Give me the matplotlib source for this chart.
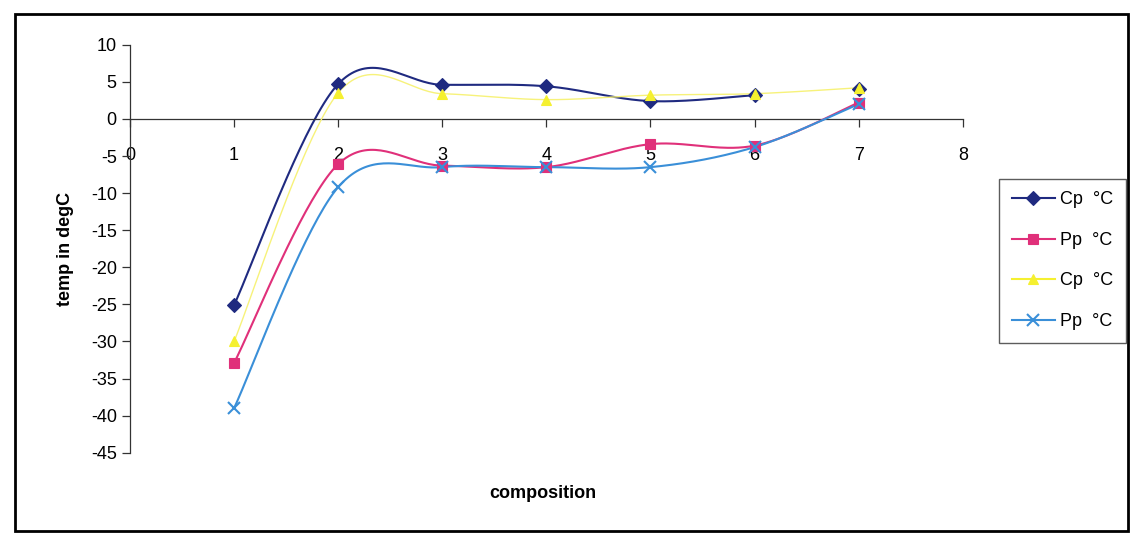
import matplotlib.pyplot as plt
import numpy as np
from matplotlib.patches import Rectangle

plt.rcParams['font.family'] = ['Liberation Sans', 'DejaVu Sans']
plt.rcParams['axes.unicode_minus'] = False

#Data
composition = [1, 2, 3, 4, 5, 6, 7]
cp_1 = [-25.1, 4.7, 4.6, 4.4, 2.4, 3.2, 4.0]
pp_1 = [-32.9, -6.1, -6.3, -6.5, -3.4, -3.6, 2.2]
cp_2 = [-30.0, 3.5, 3.4, 2.6, 3.2, 3.4, 4.2]
pp_2 = [-39.0, -9.2, -6.5, -6.5, -6.5, -3.8, 2.0]


def smooth(x, y, n=40):
    #Excel-like smoothed line: Catmull-Rom through Bezier segments
    x = np.asarray(x, float)
    y = np.asarray(y, float)
    p = np.column_stack([x, y])
    pts = []
    t = np.linspace(0, 1, n)
    for i in range(len(p) - 1):
        p0 = p[max(i - 1, 0)]
        p1 = p[i]
        p2 = p[i + 1]
        p3 = p[min(i + 2, len(p) - 1)]
        c1 = p1 + (p2 - p0) / 6
        c2 = p2 - (p3 - p1) / 6
        seg = ((1 - t) ** 3)[:, None] * p1 + (3 * (1 - t) ** 2 * t)[:, None] * c1 \
            + (3 * (1 - t) * t ** 2)[:, None] * c2 + (t ** 3)[:, None] * p2
        pts.append(seg)
    pts = np.vstack(pts)
    return pts[:, 0], pts[:, 1]


fig = plt.figure(figsize=(11.3, 5.39), dpi=100)
ax = fig.add_axes([0.115, 0.16, 0.737, 0.757])

series = [
    (cp_1, '#1f2a80', 'D', 'Cp  °C', 6),
    (pp_1, '#e0307a', 's', 'Pp  °C', 7),
    (cp_2, '#f5f030', '^', 'Cp  °C', 7),
    (pp_2, '#3a8fd8', 'x', 'Pp  °C', 7),
]
order = [2, 0, 3, 1]
handles = [None] * 4
for k in order:
    vals, c, m, lab, nline = series[k]
    sx, sy = smooth(composition[:nline], vals[:nline])
    if k == 2:
        ax.plot(sx, sy, color='#f7f27a', lw=1.0, zorder=2 + k)
    else:
        ax.plot(sx, sy, color=c, lw=1.5, zorder=2 + k)
    ax.plot(composition, vals, ls='none', marker=m, color=c, mec=c,
            ms=7 if m != 'x' else 9, mew=1.5 if m == 'x' else 0.8,
            zorder=6 + k)
    handles[k] = ax.plot([], [], color=c, lw=1.5, marker=m, ms=7 if m != 'x' else 9,
                         mew=1.5 if m == 'x' else 0.8, label=lab)[0]

ax.set_xlim(0, 8)
ax.set_ylim(-45, 10)
ax.set_xticks(range(0, 9))
ax.set_yticks(range(-45, 11, 5))
ax.spines['bottom'].set_position(('data', 0))
ax.spines['top'].set_visible(False)
ax.spines['right'].set_visible(False)
for s in ['bottom', 'left']:
    ax.spines[s].set_color('#333333')
    ax.spines[s].set_linewidth(0.9)
ax.tick_params(axis='both', labelsize=13, color='#333333', length=6, width=0.9)
ax.tick_params(axis='x', pad=14)

ax.set_ylabel('temp in degC', fontsize=13, fontweight='bold', labelpad=12)
fig.text(0.48, 0.085, 'composition', fontsize=13, fontweight='bold', ha='center', va='center')

leg = fig.legend(handles=handles, loc='upper left', bbox_to_anchor=(0.876, 0.685),
                 fontsize=13, frameon=True, fancybox=False, edgecolor='#333333',
                 handlelength=2.4, labelspacing=1.3, borderpad=0.7, handletextpad=0.3)
leg.get_frame().set_linewidth(1.0)

fig.add_artist(Rectangle((0.013, 0.014), 0.985, 0.96, transform=fig.transFigure,
                         fill=False, edgecolor='black', lw=2))

fig.savefig('out.png', dpi=100)
